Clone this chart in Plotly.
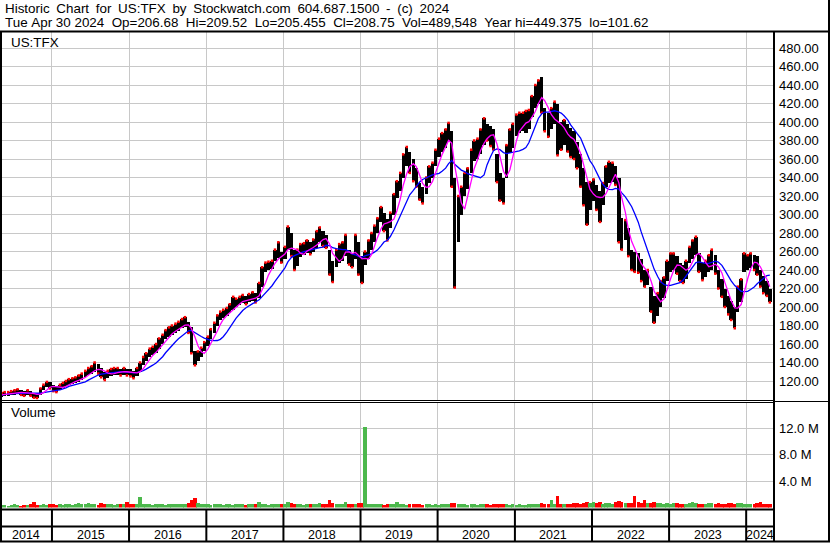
import pandas as pd
import plotly.graph_objects as go

W, H = 830, 543

# half-month ranges (low/high), May 2014 .. Apr 2024
low_2014 = [103, 104, 104, 105, 105, 106, 105, 104, 105, 104, 102, 101.6, 105, 110, 113, 112]
high_2014 = [107, 108, 108, 109, 110, 111, 110, 109, 110, 109, 107, 106, 112, 116, 119, 119]
low_2015 = [109, 108, 110, 112, 115, 116, 117, 118, 119, 121, 124, 126,
            128, 130, 128, 124, 121, 123, 125, 126, 127, 126, 127, 126]
high_2015 = [116, 115, 116, 118, 120, 122, 123, 124, 126, 128, 131, 134,
             136, 140, 138, 134, 130, 131, 133, 134, 134, 133, 134, 133]
low_2016 = [125, 123, 125, 130, 137, 142, 146, 148, 150, 155, 160, 165,
            168, 170, 172, 174, 177, 178, 172, 150, 137, 142, 146, 152]
high_2016 = [133, 131, 134, 140, 146, 150, 155, 157, 160, 166, 170, 175,
             178, 180, 182, 184, 187, 189, 184, 178, 152, 152, 156, 162]
low_2017 = [158, 165, 172, 180, 186, 188, 190, 193, 197, 200, 202, 204,
            203, 205, 206, 205, 210, 222, 238, 240, 241, 250, 253, 248]
high_2017 = [168, 176, 183, 191, 195, 197, 199, 203, 211, 209, 211, 213,
             212, 214, 216, 215, 226, 243, 248, 249, 250, 262, 270, 259]
low_2018 = [252, 262, 255, 240, 244, 254, 256, 258, 257, 260, 264, 270,
            266, 264, 235, 227, 243, 248, 250, 255, 246, 243, 252, 235]
high_2018 = [265, 287, 280, 262, 262, 268, 269, 272, 270, 273, 282, 286,
             282, 278, 262, 250, 262, 268, 270, 278, 262, 258, 278, 270]
low_2019 = [226, 245, 252, 262, 270, 280, 292, 282, 272, 285, 300, 318,
            325, 340, 352, 345, 336, 330, 316, 312, 322, 334, 340, 352]
high_2019 = [255, 260, 272, 280, 288, 296, 308, 302, 295, 302, 322, 336,
             345, 365, 373, 368, 360, 350, 334, 330, 340, 352, 356, 370]
low_2020 = [362, 368, 372, 378, 330, 221, 270, 300, 320, 328, 345, 358,
            360, 365, 375, 380, 374, 370, 335, 315, 312, 340, 366, 372]
high_2020 = [382, 388, 392, 399, 390, 340, 320, 330, 345, 350, 370, 380,
             382, 392, 404, 398, 396, 392, 365, 345, 340, 375, 392, 398]
low_2021 = [385, 388, 390, 388, 392, 405, 415, 420, 410, 390, 384, 392,
            398, 364, 370, 375, 368, 362, 360, 350, 330, 310, 289, 305]
high_2021 = [408, 410, 410, 412, 413, 428, 440, 445, 449, 415, 410, 415,
             422, 420, 400, 402, 398, 394, 390, 378, 365, 350, 335, 335]
low_2022 = [315, 305, 292, 310, 330, 334, 335, 332, 270, 262, 272, 255,
            240, 238, 237, 228, 222, 224, 195, 183, 190, 200, 210, 228]
high_2022 = [338, 332, 325, 334, 352, 357, 356, 352, 340, 296, 294, 285,
             262, 260, 258, 252, 240, 240, 222, 212, 215, 228, 232, 250]
low_2023 = [238, 240, 236, 228, 226, 230, 248, 252, 256, 238, 229, 232,
            238, 240, 236, 220, 211, 200, 192, 186, 177, 195, 205, 238]
high_2023 = [258, 258, 255, 248, 245, 250, 265, 272, 276, 258, 248, 250,
             256, 262, 256, 240, 230, 220, 212, 206, 200, 222, 230, 258]
low_2024 = [240, 242, 240, 235, 222, 215, 212, 205]
high_2024 = [256, 258, 256, 255, 240, 233, 228, 220]

# volume per half month, millions
vol_2014 = [0.35, 0.45, 0.3, 0.4, 0.5, 0.35, 0.3, 0.45, 0.4, 0.55, 0.8, 0.45, 0.4, 0.5, 0.45, 0.6]
vol_2015 = [0.5, 0.45, 0.6, 0.4, 0.55, 0.5, 0.45, 0.6, 0.7, 0.5, 0.55, 0.65,
            0.5, 0.6, 0.45, 0.7, 0.55, 0.5, 0.6, 0.45, 0.5, 0.55, 0.6, 0.8]
vol_2016 = [0.55, 0.6, 0.5, 1.6, 0.6, 0.5, 0.55, 0.45, 0.6, 0.5, 0.55, 0.45,
            0.6, 0.5, 0.55, 0.6, 0.5, 0.55, 0.7, 1.2, 1.5, 0.7, 0.5, 0.6]
vol_2017 = [0.5, 0.45, 0.55, 0.6, 0.5, 0.45, 0.5, 0.55, 0.45, 0.5, 0.6, 0.5,
            0.45, 0.55, 0.5, 0.6, 0.9, 0.55, 0.5, 0.45, 0.6, 0.5, 0.55, 0.6]
vol_2018 = [0.6, 0.8, 0.7, 0.55, 0.5, 0.6, 0.45, 0.5, 0.55, 0.6, 0.5, 0.65,
            0.55, 0.5, 1.2, 0.7, 0.6, 0.5, 0.55, 0.9, 0.5, 0.6, 0.6, 0.7]
vol_2019 = [0.7, 12.2, 0.6, 0.5, 0.55, 0.6, 0.5, 0.45, 0.6, 0.55, 0.5, 0.9,
            0.5, 0.55, 0.45, 0.5, 0.55, 0.6, 0.5, 0.45, 0.55, 0.5, 0.45, 0.5]
vol_2020 = [0.45, 0.5, 0.55, 0.6, 0.7, 0.65, 0.6, 0.5, 0.55, 0.45, 0.5, 0.55,
            0.45, 0.5, 0.55, 0.5, 0.45, 0.5, 0.6, 0.55, 0.5, 0.55, 0.45, 0.5]
vol_2021 = [0.45, 0.5, 0.4, 0.45, 0.5, 0.55, 0.5, 0.6, 0.7, 0.55, 0.5, 1.1,
            0.6, 1.8, 0.55, 0.5, 0.6, 0.55, 0.65, 0.7, 0.6, 0.75, 0.9, 0.7]
vol_2022 = [0.8, 0.7, 0.9, 0.6, 0.65, 0.7, 0.6, 0.8, 1.0, 0.8, 0.7, 0.65,
            0.7, 1.8, 0.8, 0.7, 1.2, 0.75, 0.7, 0.8, 0.65, 0.7, 0.6, 0.75]
vol_2023 = [0.6, 0.65, 0.7, 0.6, 0.55, 0.6, 0.7, 0.8, 0.65, 0.6, 0.55, 0.6,
            0.65, 0.7, 0.6, 0.65, 0.55, 0.6, 0.7, 0.65, 0.6, 0.7, 0.65, 0.6]
vol_2024 = [0.55, 0.6, 0.5, 0.65, 0.8, 0.6, 0.55, 0.5]

years = ["2014", "2015", "2016", "2017", "2018", "2019", "2020", "2021", "2022", "2023", "2024"]
price_ticks = list(range(120, 481, 20))
vol_ticks = [4, 8, 12]
vol_ticktext = ["4.0 M", "8.0 M", "12.0 M"]

header1 = "Historic Chart for US:TFX by Stockwatch.com 604.687.1500 - (c) 2024"
header2 = ("Tue Apr 30 2024  Op=206.68  Hi=209.52  Lo=205.455  Cl=208.75  "
           "Vol=489,548  Year hi=449.375  lo=101.62")

lows = pd.Series(low_2014 + low_2015 + low_2016 + low_2017 + low_2018 + low_2019
                 + low_2020 + low_2021 + low_2022 + low_2023 + low_2024)
highs = pd.Series(high_2014 + high_2015 + high_2016 + high_2017 + high_2018 + high_2019
                  + high_2020 + high_2021 + high_2022 + high_2023 + high_2024)
vols = (vol_2014 + vol_2015 + vol_2016 + vol_2017 + vol_2018 + vol_2019
        + vol_2020 + vol_2021 + vol_2022 + vol_2023 + vol_2024)

dates = pd.date_range("2014-05-01", periods=len(lows), freq="SMS") + pd.Timedelta(days=7)
mid = (lows + highs) / 2
ma_fast = mid.rolling(4, min_periods=1).mean()
ma_slow = mid.rolling(10, min_periods=1).mean()
up = [True] + [mid[i] >= mid[i - 1] for i in range(1, len(mid))]

bar_w = 16 * 24 * 3600 * 1000
x_range = ["2014-04-30", "2024-05-07"]


def px(x):
    return x / W


def py(y):
    return 1 - y / H


def price_at(y):
    return 480 - (y - 48) / 0.925


fig = go.Figure()
fig.add_trace(go.Bar(x=dates, y=highs - lows, base=lows, width=bar_w,
                     marker=dict(color="black", line=dict(width=0)),
                     xaxis="x", yaxis="y"))
down_x = [d for d, u in zip(dates, up) if not u]
down_y = [l for l, u in zip(lows, up) if not u]
up_x = [d for d, u in zip(dates, up) if u]
up_y = [h for h, u in zip(highs, up) if u]
fig.add_trace(go.Scatter(x=down_x + up_x, y=down_y + up_y, mode="markers",
                         marker=dict(symbol="square", size=2.5, color="#FF0000", line=dict(width=0)),
                         xaxis="x", yaxis="y"))
fig.add_trace(go.Scatter(x=dates, y=ma_slow, mode="lines", line=dict(color="#0000FF", width=1.3),
                         xaxis="x", yaxis="y"))
fig.add_trace(go.Scatter(x=dates, y=ma_fast, mode="lines", line=dict(color="#FF00FF", width=1.3),
                         xaxis="x", yaxis="y"))
fig.add_trace(go.Bar(x=dates, y=vols, width=bar_w,
                     marker=dict(color=["#4CB84C" if u else "#FF0000" for u in up], line=dict(width=0)),
                     xaxis="x2", yaxis="y2"))

axis_font = dict(family="Liberation Sans, Arial, sans-serif", size=13, color="black")
xcommon = dict(domain=[0, px(773)], range=x_range, type="date", showgrid=True, gridcolor="#C8C8C8",
               gridwidth=1, dtick="M12", tick0="2015-01-01", showticklabels=False,
               zeroline=False, showline=False, ticks="")
fig.update_layout(
    width=W, height=H, margin=dict(l=0, r=0, t=0, b=0),
    paper_bgcolor="white", plot_bgcolor="white", showlegend=False, bargap=0,
    xaxis=dict(anchor="y", **xcommon),
    xaxis2=dict(anchor="y2", matches="x", **xcommon),
    yaxis=dict(domain=[py(400), py(32)], range=[price_at(400), price_at(32)], side="right",
               tickvals=price_ticks, ticktext=["%.2f" % v for v in price_ticks],
               showgrid=True, gridcolor="#C8C8C8", zeroline=False, ticks="",
               ticklabelstandoff=5, tickfont=axis_font, anchor="x"),
    yaxis2=dict(domain=[py(507.5), py(403)], range=[0, (507.5 - 403) / 6.6], side="right",
                tickvals=vol_ticks, ticktext=vol_ticktext,
                showgrid=True, gridcolor="#C8C8C8", zeroline=False, ticks="",
                ticklabelstandoff=5, tickfont=axis_font, anchor="x2"),
)

text_font = dict(family="Liberation Sans, Arial, sans-serif", size=13.4, color="black")
# the original header uses wide word spacing on the first line
notes = [(header1.replace(" ", "\u2002"), 3, 9), (header2.replace(" ", "\u00a0"), 3, 22),
         ("US:TFX", 9, 42), ("Volume", 9, 413)]
for txt, x, y in notes:
    fig.add_annotation(text=txt, xref="paper", yref="paper", x=px(x), y=py(y),
                       xanchor="left", yanchor="middle", showarrow=False, font=text_font)

# year labels centred in their columns
bounds = [pd.Timestamp(x_range[0])] + [pd.Timestamp(y + "-01-01") for y in years[1:]] + [pd.Timestamp(x_range[1])]
for i, yr in enumerate(years):
    centre = bounds[i] + (bounds[i + 1] - bounds[i]) / 2
    fig.add_annotation(text=yr, xref="x", yref="paper", x=centre, y=py(534.5),
                       xanchor="center", yanchor="middle", showarrow=False,
                       font=dict(text_font, size=12.5))


# frame lines
def hline(y, x0, x1, w=2):
    fig.add_shape(type="line", xref="paper", yref="paper", x0=px(x0), x1=px(x1), y0=py(y), y1=py(y),
                  line=dict(color="black", width=w))


def vline(x, y0, y1, w=2):
    fig.add_shape(type="line", xref="paper", yref="paper", x0=px(x), x1=px(x), y0=py(y0), y1=py(y1),
                  line=dict(color="black", width=w))


hline(31.5, 0, 830)
hline(400.5, 0, 773, 1)
hline(402.5, 0, 773, 1)
hline(401.5, 773, 830, 1)
hline(509.5, 0, 773)
hline(526.5, 0, 773)
hline(541.5, 0, 830)
vline(1, 31, 542)
vline(774, 31, 542)
vline(829, 0, 542)
for b in bounds[1:-1]:
    fig.add_shape(type="line", xref="x", yref="paper", x0=b, x1=b, y0=py(510), y1=py(541),
                  line=dict(color="black", width=2))

fig.write_html("out.html", config={"displayModeBar": False},
               post_script="document.body.style.margin='0';")
